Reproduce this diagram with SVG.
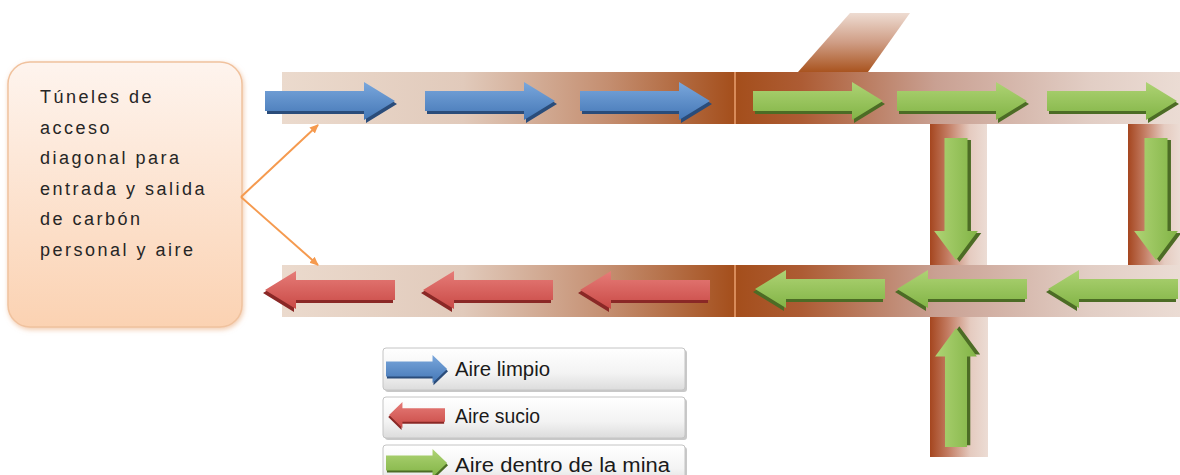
<svg xmlns="http://www.w3.org/2000/svg" xmlns:xlink="http://www.w3.org/1999/xlink" width="1180" height="475" viewBox="0 0 1180 475">
<style>
.lbl{font-family:"Liberation Sans",Arial,sans-serif;font-size:18px;letter-spacing:2.5px;fill:#262626}
.leg{font-family:"Liberation Sans",Arial,sans-serif;font-size:20px;fill:#1a1a1a}
.conn{stroke:#f59a4f;stroke-width:2;fill:none}
.div{stroke:#eaa070;stroke-width:1.5}
.legbox{fill:url(#gLeg);stroke:#c4c4c4;stroke-width:1}
.legsh{fill:#9a9a9a;opacity:0.55}
</style>
<defs>
<linearGradient id="gTL" x1="0" y1="0" x2="1" y2="0">
<stop offset="0" stop-color="#ebdacd"/><stop offset="0.4" stop-color="#e1cabb"/><stop offset="0.72" stop-color="#c48e70"/><stop offset="1" stop-color="#a44e1b"/>
</linearGradient>
<linearGradient id="gTR" x1="0" y1="0" x2="1" y2="0">
<stop offset="0" stop-color="#a44e1b"/><stop offset="0.15" stop-color="#ad5c34"/><stop offset="0.45" stop-color="#c9a092"/><stop offset="0.8" stop-color="#e2cec5"/><stop offset="1" stop-color="#ebdcd4"/>
</linearGradient>
<linearGradient id="gV" x1="0" y1="0" x2="1" y2="0">
<stop offset="0" stop-color="#a5461f"/><stop offset="0.3" stop-color="#c27a60"/><stop offset="0.7" stop-color="#e5cbc0"/><stop offset="1" stop-color="#ecdcd4"/>
</linearGradient>
<linearGradient id="gCh" x1="0" y1="0" x2="0" y2="1">
<stop offset="0" stop-color="#eedcd2"/><stop offset="0.5" stop-color="#cf9d85"/><stop offset="1" stop-color="#a9541f"/>
</linearGradient>
<linearGradient id="gBox" x1="0" y1="0" x2="0" y2="1">
<stop offset="0" stop-color="#fef4ee"/><stop offset="1" stop-color="#fbd2b2"/>
</linearGradient>
<linearGradient id="gLeg" x1="0" y1="0" x2="0" y2="1">
<stop offset="0" stop-color="#ffffff"/><stop offset="0.6" stop-color="#f3f3f3"/><stop offset="1" stop-color="#dcdcdc"/>
</linearGradient>
<linearGradient id="gBlue" x1="0" y1="0" x2="0" y2="1">
<stop offset="0" stop-color="#7aa7dc"/><stop offset="1" stop-color="#4477b6"/>
</linearGradient>
<linearGradient id="gRed" x1="0" y1="0" x2="0" y2="1">
<stop offset="0" stop-color="#e67c78"/><stop offset="1" stop-color="#c94a46"/>
</linearGradient>
<linearGradient id="gGreen" x1="0" y1="0" x2="0" y2="1">
<stop offset="0" stop-color="#aed374"/><stop offset="1" stop-color="#82b446"/>
</linearGradient>
<filter id="fSh" x="-10%" y="-10%" width="120%" height="120%">
<feGaussianBlur in="SourceAlpha" stdDeviation="2.5"/>
<feOffset dx="1" dy="2" result="b"/>
<feFlood flood-color="#e8a878" flood-opacity="0.6"/>
<feComposite in2="b" operator="in"/>
<feMerge><feMergeNode/><feMergeNode in="SourceGraphic"/></feMerge>
</filter>
<path id="arrShape" d="M0,-10 H99 V-19 L130,0 L99,19 V10 H0 Z"/>
<g id="arrB"><use href="#arrShape" transform="translate(2,3)" fill="#2a4c7a"/><use href="#arrShape" fill="url(#gBlue)"/></g>
<g id="arrR"><use href="#arrShape" transform="translate(2,3)" fill="#8a2826"/><use href="#arrShape" fill="url(#gRed)"/></g>
<g id="arrG"><use href="#arrShape" transform="translate(2,3)" fill="#4c6c25"/><use href="#arrShape" fill="url(#gGreen)"/></g>
<marker id="mOr" markerWidth="10" markerHeight="10" refX="8" refY="5" orient="auto" markerUnits="userSpaceOnUse">
<path d="M0,1 L9,5 L0,9 Z" fill="#f59a4f"/>
</marker>
</defs>

<g id="tunnels">
<polygon points="850,13 910,13 868,72 798,72" fill="url(#gCh)"/>
<rect x="282" y="72" width="453" height="52" fill="url(#gTL)"/>
<rect x="735" y="72" width="445" height="52" fill="url(#gTR)"/>
<rect x="930" y="124" width="57" height="141" fill="url(#gV)"/>
<rect x="1128" y="124" width="52" height="141" fill="url(#gV)"/>
<rect x="282" y="265" width="453" height="52" fill="url(#gTL)"/>
<rect x="735" y="265" width="445" height="52" fill="url(#gTR)"/>
<rect x="930" y="317" width="58" height="140" fill="url(#gV)"/>
<line class="div" x1="735" y1="72" x2="735" y2="124"/>
<line class="div" x1="735" y1="265" x2="735" y2="317"/>
</g>

<g id="flow-arrows">
<use href="#arrB" transform="translate(265,101)"/>
<use href="#arrB" transform="translate(425,101)"/>
<use href="#arrB" transform="translate(580,101)"/>
<use href="#arrG" transform="translate(753,101)"/>
<use href="#arrG" transform="translate(897,101)"/>
<use href="#arrG" transform="translate(1047,101)"/>
<use href="#arrG" transform="matrix(0,0.94,1.15,0,956,138)"/>
<use href="#arrG" transform="matrix(0,0.94,1.15,0,1156,138)"/>
<use href="#arrR" transform="matrix(-1,0,0,1,395,290)"/>
<use href="#arrR" transform="matrix(-1,0,0,1,553,290)"/>
<use href="#arrR" transform="matrix(-1,0,0,1,710,290)"/>
<use href="#arrG" transform="matrix(-1,0,0,1,885,289)"/>
<use href="#arrG" transform="matrix(-1,0,0,1,1027,289)"/>
<use href="#arrG" transform="matrix(-1,0,0,1,1178,289)"/>
<use href="#arrG" transform="matrix(0,-0.915,1.1,0,956,447)"/>
</g>

<g id="box-access">
<rect x="8" y="62" width="234" height="265" rx="22" fill="url(#gBox)" stroke="#f0c29e" stroke-width="1.5" filter="url(#fSh)"/>
<text class="lbl" x="40" y="103">Túneles de</text>
<text class="lbl" x="40" y="133.5">acceso</text>
<text class="lbl" x="40" y="164">diagonal para</text>
<text class="lbl" x="40" y="194.5">entrada y salida</text>
<text class="lbl" x="40" y="225">de carbón</text>
<text class="lbl" x="40" y="255.5">personal y aire</text>
</g>

<g id="connectors">
<line class="conn" x1="241" y1="197" x2="318" y2="125" marker-end="url(#mOr)"/>
<line class="conn" x1="241" y1="197" x2="318" y2="265" marker-end="url(#mOr)"/>
</g>

<g id="legend-limpio">
<rect class="legsh" x="385" y="350" width="302" height="42" rx="3"/>
<rect class="legbox" x="383" y="348" width="302" height="42" rx="3"/>
<use href="#arrB" transform="matrix(0.47,0,0,0.74,386,369)"/>
<text class="leg" x="455" y="376" textLength="95" lengthAdjust="spacingAndGlyphs">Aire limpio</text>
</g>
<g id="legend-sucio">
<rect class="legsh" x="385" y="399" width="302" height="41" rx="3"/>
<rect class="legbox" x="383" y="397" width="302" height="41" rx="3"/>
<use href="#arrR" transform="matrix(-0.43,0,0,0.68,445,415)"/>
<text class="leg" x="455" y="423" textLength="85" lengthAdjust="spacingAndGlyphs">Aire sucio</text>
</g>
<g id="legend-mina">
<rect class="legsh" x="385" y="447" width="302" height="40" rx="3"/>
<rect class="legbox" x="383" y="445" width="302" height="40" rx="3"/>
<use href="#arrG" transform="matrix(0.47,0,0,0.74,386,463)"/>
<text class="leg" x="455" y="472" textLength="215" lengthAdjust="spacingAndGlyphs">Aire dentro de la mina</text>
</g>
</svg>
